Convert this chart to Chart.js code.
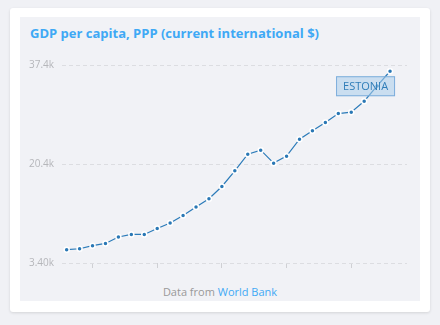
<!DOCTYPE html>
<html>
<head>
<meta charset="utf-8">
<script src="https://cdn.jsdelivr.net/npm/chart.js@4"></script>
<style>
  html, body { margin: 0; padding: 0; }
  body { width: 440px; height: 325px; background: #f0f1f5; position: relative; overflow: hidden;
         font-family: "Open Sans", sans-serif; }
  .card { position: absolute; left: 10px; top: 8px; width: 420px; height: 304px; background: #fff;
          border-radius: 3px; box-shadow: 0 1px 3px rgba(0,0,0,0.12); }
  .panel { position: absolute; left: 20px; top: 17px; width: 400px; height: 284px; background: #f1f2f6; }
  .title { position: absolute; left: 30px; top: 24px; font-size: 13px; font-weight: 700; color: #3fa9f5;
           white-space: nowrap; }
  .source { position: absolute; left: 20px; width: 400px; top: 284px; text-align: center; font-size: 11px;
            color: #999; }
  .source span { color: #3fa9f5; }
  .wrap { position: absolute; left: 20px; top: 51px; width: 400px; height: 230px; }
</style>
</head>
<body>
<div class="card"></div>
<div class="panel"></div>
<div class="title">GDP per capita, PPP (current international $)</div>
<div class="wrap"><canvas id="chart" width="400" height="230"></canvas></div>
<div class="source">Data from <span>World Bank</span></div>
<script>
// ── Data ────────────────────────────────────────────────────────
const years = [1993, 1994, 1995, 1996, 1997, 1998, 1999, 2000, 2001, 2002, 2003, 2004, 2005,
               2006, 2007, 2008, 2009, 2010, 2011, 2012, 2013, 2014, 2015, 2016, 2017, 2018];
const gdp = [5680, 5850, 6370, 6760, 7860, 8300, 8300, 9330, 10260, 11560, 13000, 14430, 16540,
             19230, 22090, 22780, 20550, 21750, 24670, 26090, 27510, 29060, 29300, 31180, 33800, 36330];
const yTicks = [3400, 20400, 37400];
const xTicks = [1995, 2000, 2005, 2010, 2015];
const seriesLabel = 'ESTONIA';

// ── Label box next to the last point ───────────────────────────
const seriesTag = {
  id: 'seriesTag',
  afterDatasetsDraw(chart) {
    const pts = chart.getDatasetMeta(0).data;
    const last = pts[pts.length - 1];
    const ctx = chart.ctx;
    const w = 59, h = 20;
    const x = last.x + 5 - w, y = last.y + 5;
    ctx.save();
    ctx.fillStyle = 'rgba(170,205,235,0.55)';
    ctx.strokeStyle = 'rgba(110,165,215,0.85)';
    ctx.lineWidth = 1;
    ctx.fillRect(x, y, w, h);
    ctx.strokeRect(x + 0.5, y + 0.5, w - 1, h - 1);
    ctx.fillStyle = '#2f7db8';
    ctx.font = '11px "Open Sans"';
    ctx.textAlign = 'center';
    ctx.textBaseline = 'middle';
    ctx.fillText(seriesLabel, x + w / 2, y + h / 2 + 1);
    ctx.restore();
  }
};

new Chart(document.getElementById('chart'), {
  type: 'line',
  data: {
    datasets: [{
      label: seriesLabel,
      data: years.map((yr, i) => ({ x: yr, y: gdp[i] })),
      borderColor: '#2b7bb9',
      borderWidth: 1.2,
      pointRadius: 2.5,
      pointBackgroundColor: '#2a78b5',
      pointBorderColor: '#ffffff',
      pointBorderWidth: 1.5,
      tension: 0
    }]
  },
  options: {
    responsive: false,
    animation: false,
    layout: { padding: { top: 13, right: 13, left: 0, bottom: 0 } },
    plugins: { legend: { display: false }, tooltip: { enabled: false } },
    scales: {
      x: {
        type: 'linear',
        min: 1992.64,
        max: 2019.31,
        afterBuildTicks(axis) { axis.ticks = xTicks.map(v => ({ value: v })); },
        afterFit(axis) { axis.height = 18; },
        ticks: { display: false },
        grid: { drawOnChartArea: false, drawTicks: true, tickLength: 5, color: '#cfd0d4' },
        border: { display: false }
      },
      y: {
        min: 3400,
        max: 37400,
        afterBuildTicks(axis) { axis.ticks = yTicks.map(v => ({ value: v })); },
        afterFit(axis) { axis.width = 42; },
        ticks: {
          padding: 8,
          color: '#b5b6ba',
          font: { family: 'Open Sans', size: 10 },
          callback: v => (v / 1000).toPrecision(3) + 'k'
        },
        grid: { drawTicks: false, color: '#dcdde1', lineWidth: 1 },
        border: { display: false, dash: [4, 3] }
      }
    }
  },
  plugins: [seriesTag]
});
</script>
</body>
</html>
